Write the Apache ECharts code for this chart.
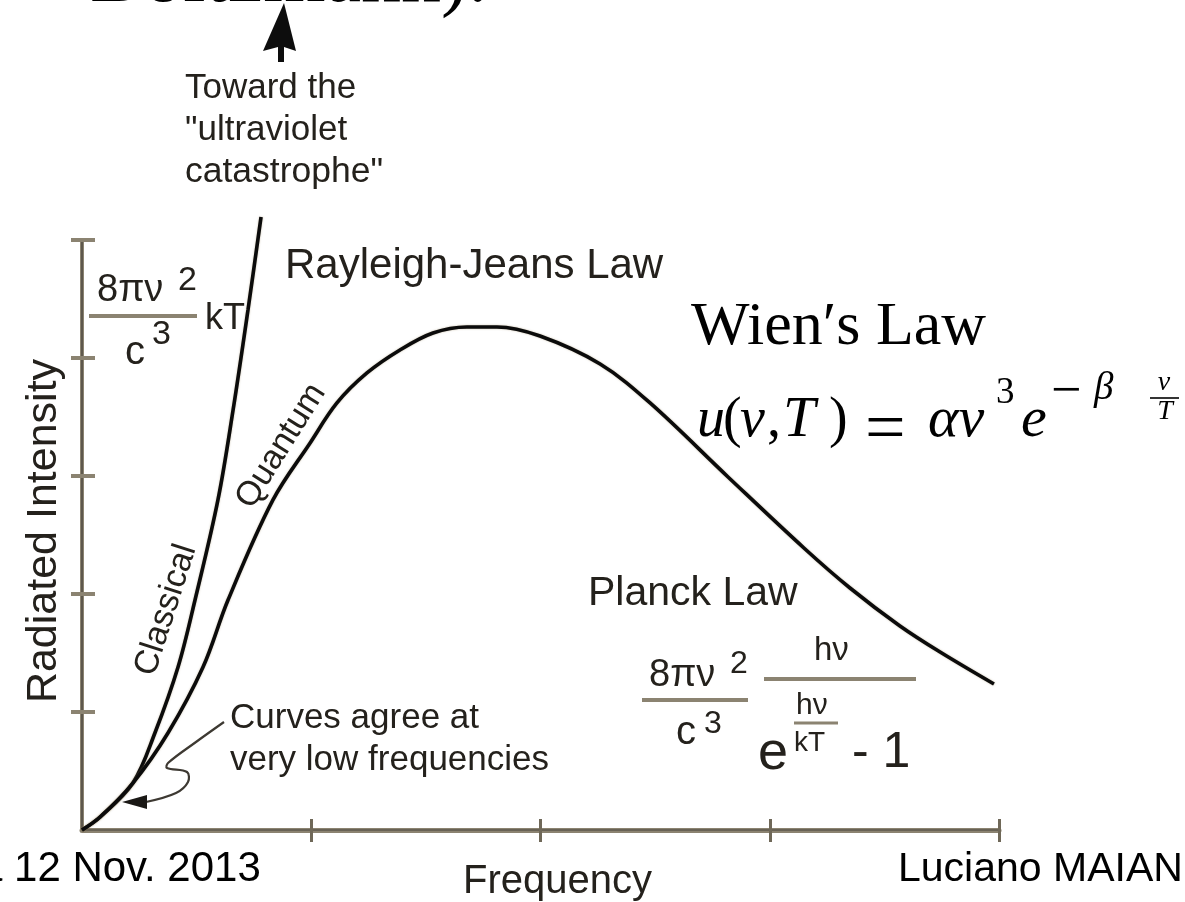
<!DOCTYPE html>
<html>
<head>
<meta charset="utf-8">
<title>Blackbody radiation: classical vs quantum</title>
<script src="https://cdn.jsdelivr.net/npm/echarts@6/dist/echarts.min.js"></script>
<style>
  html, body { margin: 0; padding: 0; background: #ffffff; overflow: hidden; }
  #chart { width: 1185px; height: 902px; }
</style>
</head>
<body>
<div id="chart"></div>
<script>
// Axis extents (arbitrary units) and the tick marks drawn on each axis
const frequencyRange = [0, 4];
const intensityRange = [0, 5];
const frequencyTicks = [1, 2, 3, 4];
const intensityTicks = [1, 2, 3, 4, 5];

// Planck (quantum) curve
const planckFreq = [0, 0.079, 0.222, 0.375, 0.528, 0.637, 0.833, 0.995, 1.112, 1.243, 1.387, 1.531,
  1.679, 1.810, 1.998, 2.260, 2.478, 2.818, 3.149, 3.350, 3.568, 3.743, 3.978];
const planckIntensity = [0, 0.110, 0.398, 0.822, 1.381, 1.949, 2.797, 3.280, 3.619, 3.873, 4.068, 4.212,
  4.263, 4.263, 4.186, 3.949, 3.619, 2.992, 2.390, 2.051, 1.729, 1.508, 1.237];

// Rayleigh-Jeans (classical) curve
const classicalFreq = [0, 0.079, 0.222, 0.318, 0.419, 0.493, 0.593, 0.659, 0.724, 0.781];
const classicalIntensity = [0, 0.110, 0.398, 0.822, 1.381, 1.949, 2.797, 3.559, 4.407, 5.195];

const zip = (xs, ys) => xs.map((x, i) => [x, ys[i]]);

const SANS = '"Liberation Sans", Arial, Helvetica, sans-serif';
const SERIF = '"Liberation Serif", "Times New Roman", serif';
const INK = '#24211c';
const TAN = '#8b8371';

// text placed by its baseline
function txt(x, baseline, text, size, opts) {
  opts = opts || {};
  return {
    type: 'text',
    x: x,
    y: baseline - 0.34 * size,
    silent: true,
    style: {
      text: text,
      fill: opts.color || INK,
      font: (opts.italic ? 'italic ' : '') + (opts.weight || 'normal') + ' ' + size + 'px ' + (opts.family || SANS),
      textAlign: opts.align || 'left',
      textVerticalAlign: 'middle'
    }
  };
}
// serif maths glyphs
function mth(x, baseline, text, size, italic, align) {
  return txt(x, baseline, text, size, { family: SERIF, color: '#000', italic: italic, align: align });
}
// text rotated around its centre
function rtxt(cx, cy, text, size, deg) {
  return {
    type: 'text',
    x: cx, y: cy,
    rotation: deg * Math.PI / 180,
    silent: true,
    style: {
      text: text, fill: INK, font: size + 'px ' + SANS,
      textAlign: 'center', textVerticalAlign: 'middle'
    }
  };
}
function bar(x1, x2, y, w, color) {
  return {
    type: 'line', silent: true,
    shape: { x1: x1, y1: y, x2: x2, y2: y },
    style: { stroke: color || TAN, lineWidth: w || 4 }
  };
}

const chart = echarts.init(document.getElementById('chart'), null, { renderer: 'canvas' });

const graphics = [
  // slide heading (only its lower edge is on the page)
  txt(90, 7, 'Boltzmann).', 80, { family: SERIF, color: '#000' }),

  // arrow pointing off the top of the plot
  {
    type: 'polygon', silent: true,
    shape: { points: [[284, 3], [263, 51], [278, 47], [278, 62], [284, 62], [284, 47], [296, 51]] },
    style: { fill: '#0d0d0d' }
  },
  txt(185, 100, 'Toward the', 35),
  txt(185, 142, '"ultraviolet', 35),
  txt(185, 184, 'catastrophe"', 35.5),

  // Rayleigh-Jeans formula next to the intensity axis
  txt(97, 303, '8πν', 38),
  txt(178, 292, '2', 34),
  bar(89, 197, 316),
  txt(125, 367, 'c', 40),
  txt(152, 346, '3', 34),
  txt(205, 331, 'kT', 36),

  txt(285, 281, 'Rayleigh-Jeans Law', 42),
  txt(588, 608, 'Planck Law', 41),

  rtxt(166, 610, 'Classical', 34, 72),
  rtxt(281, 446, 'Quantum', 34, 58),

  // low-frequency note with its squiggly pointer
  txt(230, 730, 'Curves agree at', 35),
  txt(230, 772, 'very low frequencies', 35),
  {
    type: 'polyline', silent: true,
    shape: { points: [[224, 722], [196, 742], [168, 763], [167, 768], [187, 772], [188, 782], [176, 793], [146, 802]], smooth: 0.35 },
    style: { stroke: '#3d3932', lineWidth: 2.2, fill: null }
  },
  {
    type: 'polygon', silent: true,
    shape: { points: [[122, 802], [147, 795], [147, 809]] },
    style: { fill: '#1a1815' }
  },

  // Planck formula
  txt(649, 688, '8πν', 38),
  txt(730, 675, '2', 32),
  bar(642, 748, 700),
  txt(676, 747, 'c', 40),
  txt(704, 735, '3', 32),
  txt(814, 662, 'hν', 33),
  bar(764, 916, 679),
  txt(796, 716, 'hν', 30),
  bar(794, 838, 723, 3),
  txt(758, 772, 'e', 54),
  txt(794, 753, 'kT', 28),
  txt(852, 770, '- 1', 50),

  // Wien's law (typeset maths)
  txt(691, 349, 'Wien′s Law', 62, { family: SERIF, color: '#000' }),
  mth(697, 440, 'u', 56, true),
  mth(723, 440, '(', 56),
  mth(740, 440, 'ν', 56, true),
  mth(767, 440, ',', 56),
  mth(783, 440, 'T', 58, true),
  mth(829, 440, ')', 56),
  mth(865, 457, '=', 72),
  mth(928, 440, 'αν', 58, true),
  mth(996, 406, '3', 37),
  mth(1021, 440, 'e', 58, true),
  mth(1051, 411, '−', 54),
  mth(1094, 402, 'β', 39, true),
  mth(1164, 392, 'ν', 28, true, 'center'),
  bar(1150, 1179, 398, 1.6, '#000'),
  mth(1165, 421, 'T', 28, true, 'center'),

  // footer
  txt(-21, 884, 'a 12 Nov. 2013', 42, { color: '#000' }),
  txt(898, 884, 'Luciano MAIANI', 41, { color: '#000' })
];

const axisTan = { color: TAN, width: 4 };

chart.setOption({
  animation: false,
  backgroundColor: '#ffffff',
  grid: { left: 82, right: 186, top: 240, bottom: 72, outerBoundsMode: 'none' },
  xAxis: [
    {
      type: 'value', min: frequencyRange[0], max: frequencyRange[1], interval: 1,
      name: 'Frequency', nameLocation: 'middle', nameGap: 32,
      nameTextStyle: { fontFamily: SANS, fontSize: 40, color: INK, padding: [0, 0, 0, 34] },
      axisLine: { show: true, onZero: false, lineStyle: { color: TAN, width: 5 } },
      axisTick: { show: true, length: 12, customValues: frequencyTicks, lineStyle: { color: '#6f6858', width: 3 } },
      axisLabel: { show: false }, splitLine: { show: false }
    },
    {
      type: 'value', min: frequencyRange[0], max: frequencyRange[1], interval: 1,
      position: 'bottom',
      axisLine: { show: true, onZero: false, lineStyle: { color: '#5e584c', width: 1.5 } },
      axisTick: { show: true, inside: true, length: 11, customValues: frequencyTicks, lineStyle: { color: '#6f6858', width: 3 } },
      axisLabel: { show: false }, splitLine: { show: false }
    }
  ],
  yAxis: [
    {
      type: 'value', min: intensityRange[0], max: intensityRange[1], interval: 1,
      name: 'Radiated Intensity', nameLocation: 'middle', nameRotate: 90, nameGap: 16,
      nameTextStyle: { fontFamily: SANS, fontSize: 43, color: INK, padding: [0, 0, 0, 8] },
      axisLine: { show: true, onZero: false, lineStyle: axisTan },
      axisTick: { show: true, length: 11, customValues: intensityTicks, lineStyle: axisTan },
      axisLabel: { show: false }, splitLine: { show: false }
    },
    {
      type: 'value', min: intensityRange[0], max: intensityRange[1], interval: 1,
      position: 'left',
      axisLine: { show: true, onZero: false, lineStyle: { color: '#4f4a40', width: 1.5 } },
      axisTick: { show: true, inside: true, length: 13, customValues: intensityTicks, lineStyle: axisTan },
      axisLabel: { show: false }, splitLine: { show: false }
    }
  ],
  series: [
    {
      name: 'Classical', type: 'line', data: zip(classicalFreq, classicalIntensity),
      smooth: 0.35, showSymbol: false, symbol: 'none', clip: false,
      lineStyle: { color: '#0b0b0b', width: 3.6, shadowColor: 'rgba(150,130,90,0.55)', shadowBlur: 2 },
      z: 5
    },
    {
      name: 'Quantum', type: 'line', data: zip(planckFreq, planckIntensity),
      smooth: 0.35, showSymbol: false, symbol: 'none', clip: false,
      lineStyle: { color: '#0b0b0b', width: 3.6, shadowColor: 'rgba(150,130,90,0.55)', shadowBlur: 2 },
      z: 5
    }
  ],
  graphic: graphics
});
</script>
</body>
</html>
